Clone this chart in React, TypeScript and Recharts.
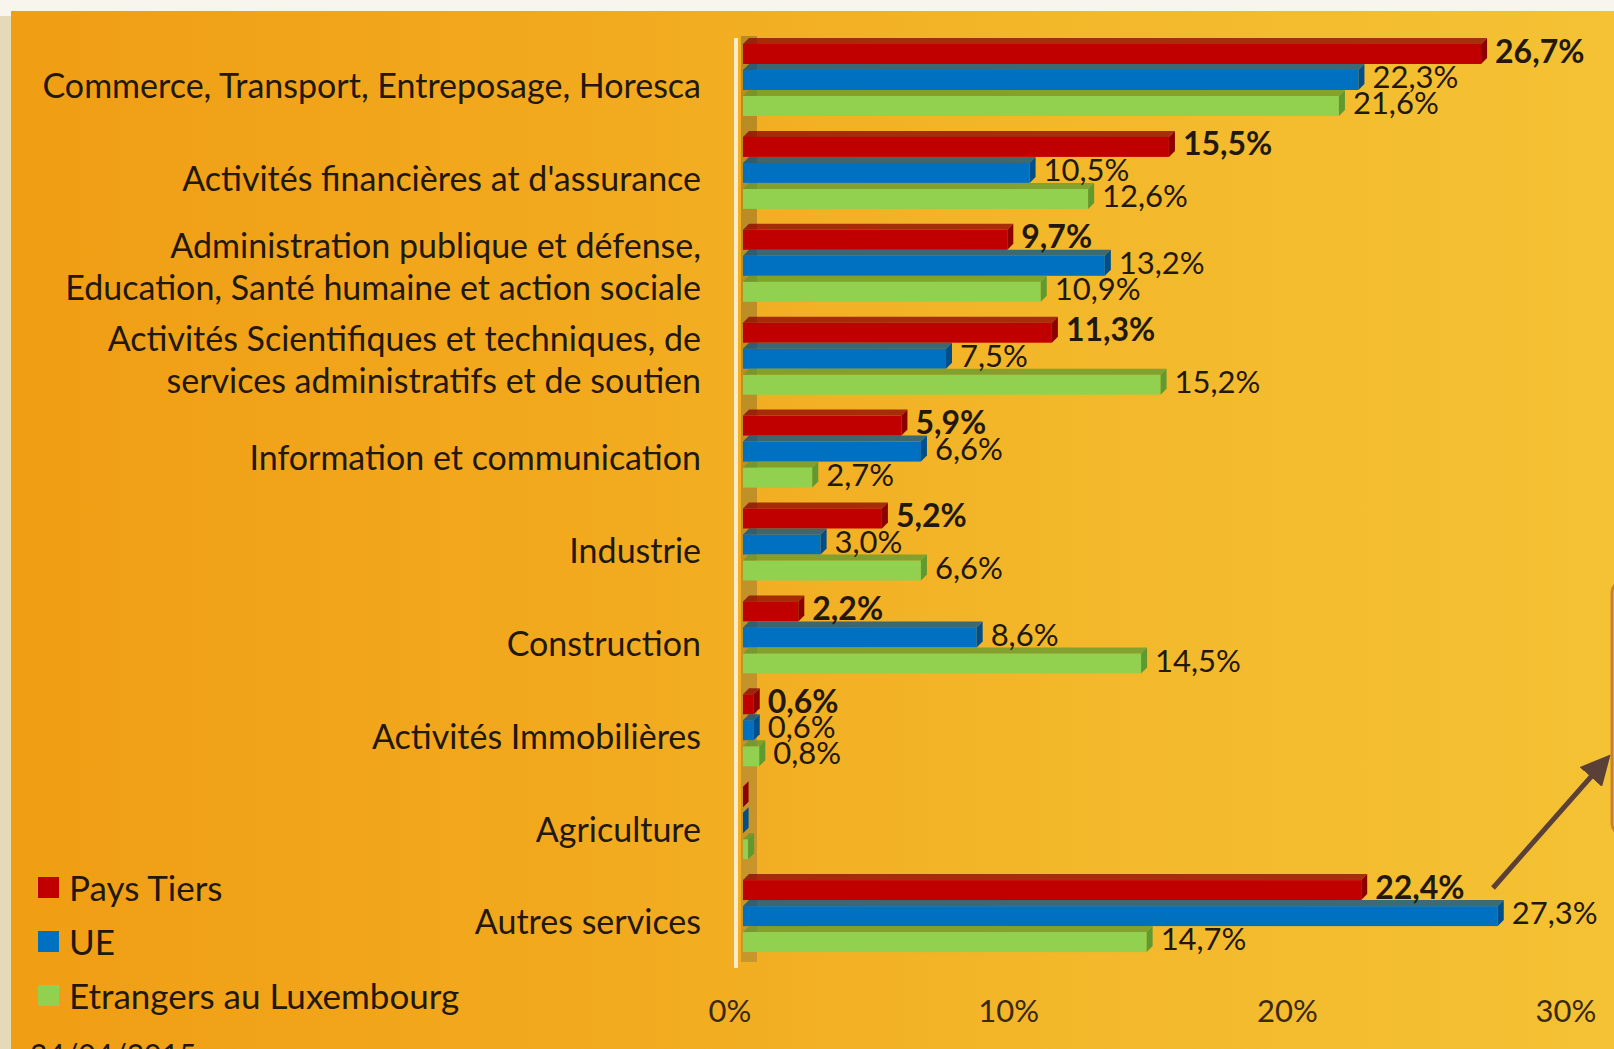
import { Bar, BarChart, LabelList, Legend, XAxis, YAxis } from 'recharts';

const categories = [
  'Commerce, Transport, Entreposage, Horesca',
  "Activités financières at d'assurance",
  'Administration publique et défense,\nEducation, Santé humaine et action sociale',
  'Activités Scientifiques et techniques, de\nservices administratifs et de soutien',
  'Information et communication',
  'Industrie',
  'Construction',
  'Activités Immobilières',
  'Agriculture',
  'Autres services',
];
const paysTiers = [26.7, 15.5, 9.7, 11.3, 5.9, 5.2, 2.2, 0.6, 0.2, 22.4];
const ue = [22.3, 10.5, 13.2, 7.5, 6.6, 3.0, 8.6, 0.6, 0.2, 27.3];
const etrangers = [21.6, 12.6, 10.9, 15.2, 2.7, 6.6, 14.5, 0.8, 0.4, 14.7];
const xTicks = [0, 10, 20, 30];
const dateText = '24/04/2015';

const FONT = 'Lato, "Open Sans", sans-serif';
const INK = '#22180c';

const series = [
  { key: 'paysTiers', label: 'Pays Tiers', color: '#c00000', dark: '#8c0000', bold: true },
  { key: 'ue', label: 'UE', color: '#0070c0', dark: '#004f8a', bold: false },
  { key: 'etrangers', label: 'Etrangers au Luxembourg', color: '#92d050', dark: '#5e9a30', bold: false },
];

const data = categories.map((name, i) => ({
  name,
  paysTiers: paysTiers[i],
  ue: ue[i],
  etrangers: etrangers[i],
}));

const pct = (v: number) => `${String(v.toFixed(1)).replace('.', ',')}%`;

// pseudo 3D bar: front face, dark top face and dark end cap
function Bar3D(props: any) {
  const { x, y, width, height, fill, dark } = props;
  if (!width || width <= 0) return null;
  const d = Math.min(6, width);
  return (
    <g>
      <rect x={x} y={y + d} width={Math.max(width - d, 0)} height={height - d} fill={fill} />
      <polygon
        points={`${x},${y + d} ${x + d},${y} ${x + width},${y} ${x + width - d},${y + d}`}
        fill={dark}
        opacity={0.75}
      />
      <polygon
        points={`${x + width - d},${y + d} ${x + width},${y} ${x + width},${y + height - d} ${x + width - d},${y + height}`}
        fill={dark}
      />
    </g>
  );
}

function ValueLabel(props: any) {
  const { x, y, width, height, value, bold } = props;
  if (value == null || value < 0.5) return null;
  return (
    <text
      x={x + width + 8}
      y={y + height / 2}
      dy="0.36em"
      fontSize={bold ? 32 : 31}
      fontWeight={bold ? 700 : 400}
      fill={INK}
      fontFamily={FONT}
    >
      {pct(value)}
    </text>
  );
}

function CategoryTick({ x, y, payload }: any) {
  const lines = String(payload.value).split('\n');
  const lh = 42;
  const top = y + (lines.length === 1 ? 9 : 4) - ((lines.length - 1) * lh) / 2;
  return (
    <text x={x} y={top} textAnchor="end" fontSize={34} fill={INK} fontFamily={FONT}>
      {lines.map((l, i) => (
        <tspan key={i} x={x} dy={i === 0 ? '0.35em' : lh}>
          {l}
        </tspan>
      ))}
    </text>
  );
}

function PercentTick({ x, y, payload }: any) {
  return (
    <text x={x - 13} y={y + 51} dy="0.35em" textAnchor="middle" fontSize={31} fill="#3a2810" fontFamily={FONT}>
      {payload.value}%
    </text>
  );
}

function LegendBox() {
  return (
    <div style={{ fontFamily: FONT, fontSize: 35, color: INK }}>
      {series.map((s) => (
        <div key={s.key} style={{ display: 'flex', alignItems: 'center', height: 54 }}>
          <span style={{ width: 21, height: 21, background: s.color, marginLeft: 38, marginRight: 10 }} />
          <span>{s.label}</span>
        </div>
      ))}
    </div>
  );
}

export default function App() {
  return (
    <div
      style={{
        position: 'absolute',
        left: 0,
        top: 0,
        width: 1614,
        height: 1049,
        overflow: 'hidden',
        background: '#f8f5ef',
        fontFamily: FONT,
      }}
    >
      <div style={{ position: 'absolute', left: 0, top: 16, width: 11, bottom: 0, background: '#e5d9ba' }} />
      <div
        style={{
          position: 'absolute',
          left: 11,
          top: 11,
          right: 0,
          bottom: 0,
          background: 'linear-gradient(90deg, #f09e14 0%, #f2a91e 35%, #f3b72a 65%, #f4c234 100%)',
        }}
      />
      <svg style={{ position: 'absolute', left: 0, top: 0 }} width={1614} height={1049}>
        <defs>
          <linearGradient id="wall" x1="0" y1="0" x2="0" y2="1">
            <stop offset="0%" stopColor="#b88a22" />
            <stop offset="100%" stopColor="#c9962c" />
          </linearGradient>
        </defs>
        <rect x={741} y={36} width={16} height={926} fill="url(#wall)" />
        <line x1={736} y1={38} x2={736} y2={968} stroke="#fbeccb" strokeWidth={4} />
        <text x={30} y={1066} fontSize={30} fill={INK} fontFamily={FONT}>
          {dateText}
        </text>
      </svg>
      <div style={{ position: 'absolute', left: 0, top: 0 }}>
        <BarChart
          width={1614}
          height={1049}
          data={data}
          layout="vertical"
          margin={{ top: 31, right: 35, bottom: 0, left: 0 }}
          barCategoryGap={7}
          barGap={0}
        >
          <XAxis
            type="number"
            domain={[0, 30]}
            ticks={xTicks}
            axisLine={false}
            tickLine={false}
            tickSize={0}
            tickMargin={0}
            height={89}
            tick={<PercentTick />}
          />
          <YAxis
            type="category"
            dataKey="name"
            width={743}
            axisLine={false}
            tickLine={false}
            tickSize={0}
            tickMargin={42}
            interval={0}
            tick={<CategoryTick />}
          />
          <Legend
            layout="vertical"
            align="center"
            verticalAlign="middle"
            content={() => <LegendBox />}
            wrapperStyle={{ left: 0, top: 860, width: 520, height: 170 }}
          />
          {series.map((s) => (
            <Bar
              key={s.key}
              dataKey={s.key}
              name={s.label}
              fill={s.color}
              isAnimationActive={false}
              shape={(p: any) => <Bar3D {...p} fill={s.color} dark={s.dark} />}
            >
              <LabelList dataKey={s.key} content={(p: any) => <ValueLabel {...p} bold={s.bold} />} />
            </Bar>
          ))}
        </BarChart>
      </div>
      <svg style={{ position: 'absolute', left: 0, top: 0, pointerEvents: 'none' }} width={1614} height={1049}>
        <defs>
          <marker id="arrow" markerWidth="6" markerHeight="6" refX="4" refY="3" orient="auto">
            <path d="M0,0 L6,3 L0,6 z" fill="#5a4036" />
          </marker>
        </defs>
        <rect x={1612} y={583} width={60} height={250} rx={9} fill="#f4c437" stroke="#c98330" strokeWidth={3} />
        <line x1={1493} y1={888} x2={1604} y2={762} stroke="#5a4036" strokeWidth={5} markerEnd="url(#arrow)" />
      </svg>
    </div>
  );
}
